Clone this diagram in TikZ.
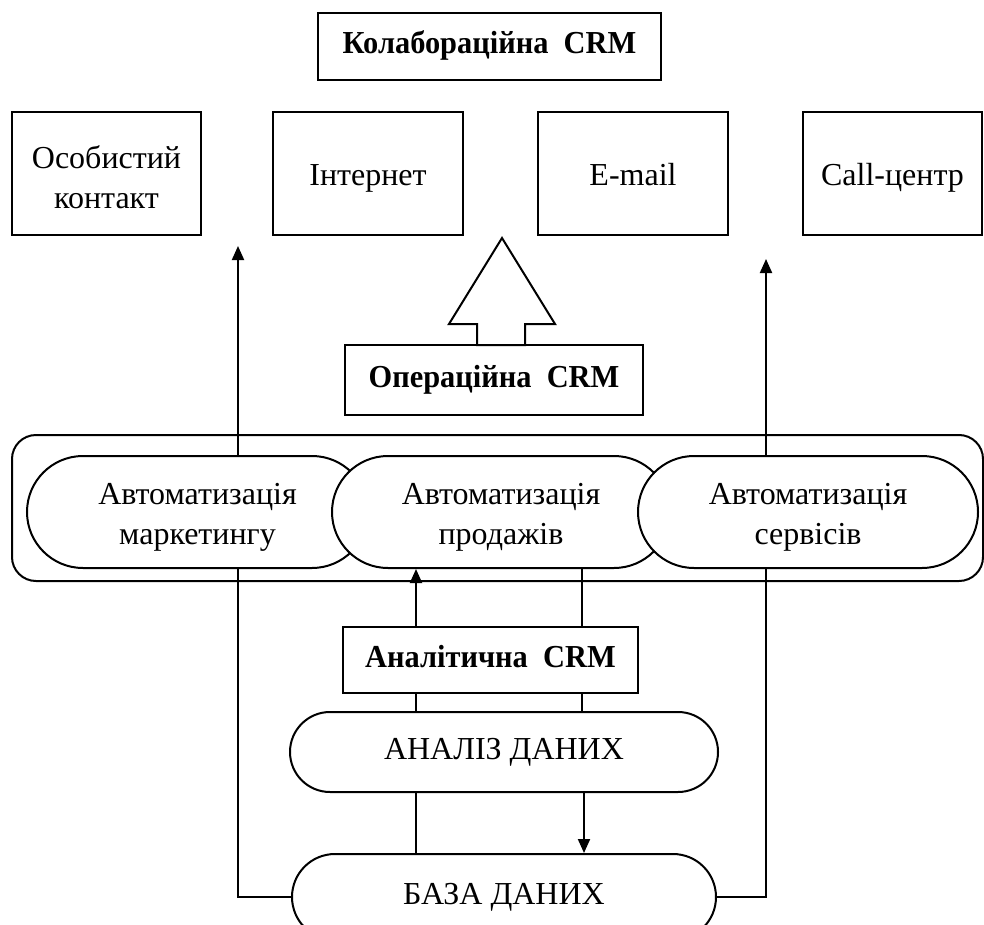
\documentclass[tikz,border=0pt]{standalone}
\usepackage{fontspec}
\setmainfont{Liberation Serif}
\newfontfamily\headfont{Liberation Serif}[FakeStretch=0.95]
\usetikzlibrary{shapes.misc,arrows.meta}
\newcommand{\topstrut}[1]{\rule{0pt}{#1}}
\begin{document}
\begin{tikzpicture}[x=1pt,y=-1pt,
  line width=2pt,
  every node/.style={font=\fontsize{32}{40}\selectfont, align=center, inner sep=0pt},
  oneline/.style={text height=22pt, text depth=7pt},
  lowline/.style={text height=28pt, text depth=3pt},
  plainbox/.style={draw, rectangle, fill=white},
  headbox/.style={draw, rectangle, fill=white, oneline, font=\fontsize{32}{40}\selectfont\headfont\bfseries},
  pill/.style={draw, rounded rectangle, fill=white},
  tip/.style={-{Triangle[length=14pt,width=12pt]}},
]
\useasboundingbox (0,0) rectangle (984,925);

% collaborative level
\node[headbox, minimum width=343pt, minimum height=67pt] (colab) at (489.5,46.5) {Колабораційна~ CRM};
\node[plainbox, minimum width=189pt, minimum height=123pt] (ch1) at (106.5,173.5) {\topstrut{30pt}Особистий\\контакт};
\node[plainbox, lowline, minimum width=190pt, minimum height=123pt] (ch2) at (368,173.5) {Інтернет};
\node[plainbox, lowline, minimum width=190pt, minimum height=123pt] (ch3) at (633,173.5) {E-mail};
\node[plainbox, lowline, minimum width=179pt, minimum height=123pt] (ch4) at (892.5,173.5) {Call-центр};

% operational level
\node[headbox, minimum width=298pt, minimum height=70pt] (oper) at (494,380) {Операційна~ CRM};
\draw[fill=white] (477,345) -- (477,324) -- (449,324) -- (502,238) -- (555,324) -- (525,324) -- (525,345) -- cycle;

\node[draw, rectangle, rounded corners=24pt, minimum width=971pt, minimum height=146pt] (opframe) at (497.5,508) {};
\node[pill, minimum width=341pt, minimum height=112pt] (auto1) at (197.5,512) {\topstrut{32pt}Автоматизація\\маркетингу};
\node[pill, minimum width=338pt, minimum height=112pt] (auto2) at (501,512) {\topstrut{32pt}Автоматизація\\продажів};
\node[pill, minimum width=340pt, minimum height=112pt] (auto3) at (808,512) {\topstrut{32pt}Автоматизація\\сервісів};

% analytical level
\node[headbox, minimum width=295pt, minimum height=66pt] (anal) at (490.5,660) {Аналітична~ CRM};
\node[pill, oneline, minimum width=428pt, minimum height=80pt] (dm) at (504,752) {АНАЛІЗ ДАНИХ};
\node[pill, oneline, minimum width=424pt, minimum height=86pt] (db) at (504,897) {БАЗА ДАНИХ};

% vertical guide positions of connectors
\coordinate (gL) at (238,0);
\coordinate (gR) at (766,0);
\coordinate (gA) at (416,0);
\coordinate (gB) at (582,0);

% links to the contact channels
\draw[tip, shorten >=10pt] (auto1.north -| gL) -- (ch1.south -| gL);
\draw[tip, shorten >=23pt] (auto3.north -| gR) -- (ch4.south -| gR);

% links with the database
\draw (auto1.south -| gL) |- (db.west);
\draw (auto3.south -| gR) |- (db.east);

% links of the analytical block
\draw[tip] (anal.north -| gA) -- (auto2.south -| gA);
\draw (auto2.south -| gB) -- (anal.north -| gB);
\draw (anal.south -| gA) -- (dm.north -| gA);
\draw (anal.south -| gB) -- (dm.north -| gB);
\draw (dm.south -| gA) -- (db.north -| gA);
\draw[tip] ([xshift=2pt]dm.south -| gB) -- ([xshift=2pt]db.north -| gB);
\end{tikzpicture}
\end{document}
